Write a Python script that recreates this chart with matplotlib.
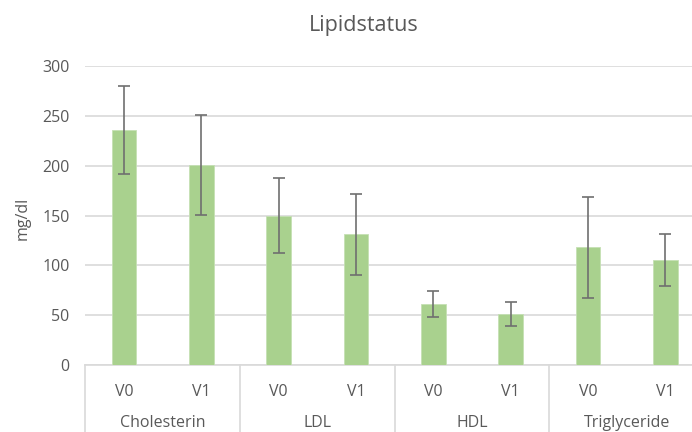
import matplotlib
matplotlib.use("Agg")
import matplotlib.pyplot as plt
import matplotlib.transforms as mtransforms
import numpy as np

groups = ["Cholesterin", "LDL", "HDL", "Triglyceride"]
visits = ["V0", "V1"]
means = [236, 201, 150, 131, 61, 51, 118, 105]
errors = [44, 50, 38, 41, 13, 12, 51, 26]
yticks = [0, 50, 100, 150, 200, 250, 300]

plt.rcParams['font.family'] = ['Open Sans', 'DejaVu Sans']

W, H = 692, 432
fig = plt.figure(figsize=(W / 100, H / 100), dpi=100)
left_px, right_px, top_px, bottom_px = 85.4, 704, 66, 365
ax = fig.add_axes([left_px / W, 1 - bottom_px / H, (right_px - left_px) / W, (bottom_px - top_px) / H])

x = np.arange(len(means))
ax.bar(x, means, width=0.32, color="#A9D18E", edgecolor="#C5E0B4", linewidth=0.6, zorder=3)
ax.errorbar(x, means, yerr=errors, fmt="none", ecolor="#6F6F6F", elinewidth=1.2,
            capsize=4.5, capthick=1.2, zorder=4)

ax.set_xlim(-0.5, len(means) - 0.5)
ax.set_ylim(0, 300)
ax.set_yticks(yticks)
ax.set_yticklabels([str(v) for v in yticks])
ax.yaxis.grid(True, color="#D9D9D9", linewidth=1.2, zorder=0)
ax.set_axisbelow(True)

for s in ["top", "right", "left"]:
    ax.spines[s].set_visible(False)
ax.spines["bottom"].set_color("#D9D9D9")
ax.spines["bottom"].set_linewidth(1.2)

ax.tick_params(axis="y", length=0, pad=11.5, labelsize=11.5, labelcolor="#595959")
ax.set_xticks(x)
ax.set_xticklabels(visits * len(groups))
ax.tick_params(axis="x", length=0, pad=13.5, labelsize=11.5, labelcolor="#595959")

ax.set_ylabel("mg/dl", fontsize=11.5, color="#595959", va="center")
ax.yaxis.set_label_coords((23 - left_px) / (right_px - left_px), 0.49)

trans = mtransforms.blended_transform_factory(ax.transData, ax.transAxes)
n_per = len(visits)
for i, g in enumerate(groups):
    cx = i * n_per + (n_per - 1) / 2
    ax.text(cx, -0.193, g, transform=trans, ha="center", va="center",
            fontsize=11.5, color="#595959", clip_on=False)
for i in range(len(groups) + 1):
    bx = i * n_per - 0.5
    ax.plot([bx, bx], [0, -0.25], transform=trans, color="#D9D9D9", linewidth=1.2, clip_on=False)

fig.text(364 / W, 1 - 25 / H, "Lipidstatus", ha="center", va="center", fontsize=15.5, color="#595959")

fig.savefig("out.png", dpi=100)
